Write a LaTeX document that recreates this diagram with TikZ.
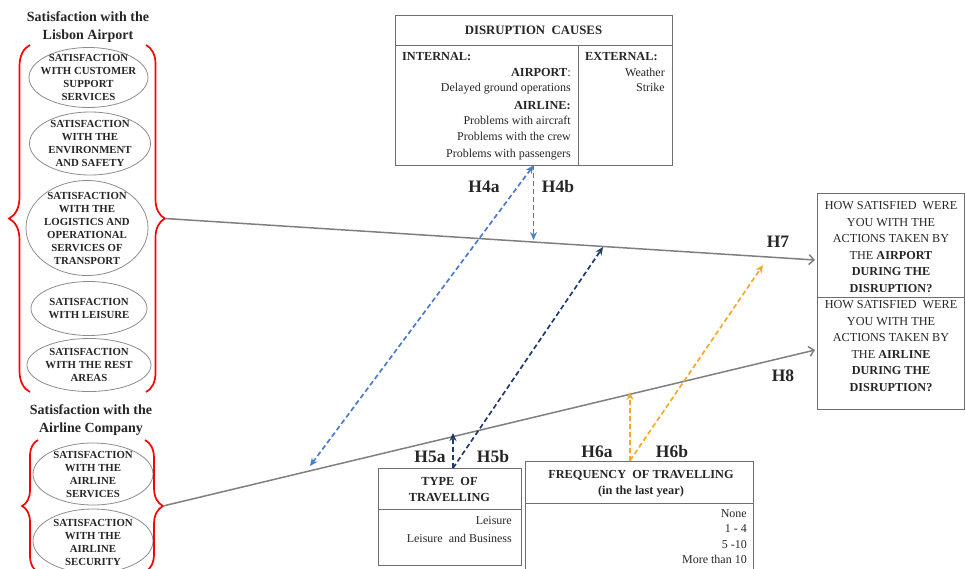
\documentclass[tikz,border=0pt]{standalone}
\usepackage{fontspec}
\setmainfont{Liberation Serif}
\usetikzlibrary{arrows.meta,decorations.pathreplacing,shapes.geometric}
\definecolor{lblue}{HTML}{4A7BD0}
\definecolor{navy}{HTML}{1F3A6E}
\definecolor{orng}{HTML}{F9A825}
\definecolor{lgray}{HTML}{7F7F7F}
\definecolor{ellgray}{HTML}{8C8C8C}
\definecolor{boxgray}{HTML}{6E6E6E}
\begin{document}
\begin{tikzpicture}[x=1pt,y=-1pt,
  ell/.style={ellipse,draw=ellgray,line width=0.8pt,inner sep=0pt},
  etext/.style={font=\fontsize{10.8}{13}\selectfont\bfseries,align=center,inner sep=0pt,text=black!85},
  ttl/.style={font=\fontsize{14}{18}\selectfont\bfseries,align=center,inner sep=0pt,text=black!85},
  hyp/.style={font=\fontsize{17.5}{17}\selectfont\bfseries,inner sep=0pt,text=black!85},
  rbrace/.style={draw=red,line width=1.7pt,decorate,decoration={brace,amplitude=#1}},
  boxn/.style={draw=boxgray,line width=0.9pt,inner sep=0pt,rectangle},
  body/.style={font=\fontsize{12}{16}\selectfont,inner sep=0pt,text=black!85},
  bhead/.style={font=\fontsize{12.3}{16}\selectfont\bfseries,inner sep=0pt,text=black!85},
  qtext/.style={font=\fontsize{12.2}{16.5}\selectfont,align=center,inner sep=0pt,text=black!85},
  conn/.style={draw=lgray,line width=1.5pt,-{Straight Barb[length=5pt,width=10pt,line width=1.5pt]}},
  dl/.style={line width=1.7pt,dash pattern=on 5pt off 3pt},
  tp/.tip={Stealth[length=8pt,width=7pt]}
]
\useasboundingbox (0,0) rectangle (965,568);
\clip (0,0) rectangle (965,568);

% ---- Lisbon Airport group
\node[ttl] (t1) at (88,27) {Satisfaction with the\\Lisbon Airport};
\node[ell,minimum width=119pt,minimum height=60pt] (e1) at (88.5,77.5) {};
\node[etext] (x1) at (e1) {SATISFACTION\\WITH CUSTOMER\\SUPPORT\\SERVICES};
\node[ell,minimum width=121pt,minimum height=63pt] (e2) at (90,143.5) {};
\node[etext] (x2) at (e2) {SATISFACTION\\WITH THE\\ENVIRONMENT\\AND SAFETY};
\node[ell,minimum width=122pt,minimum height=95pt] (e3) at (87,228) {};
\node[etext] (x3) at (e3) {SATISFACTION\\WITH THE\\LOGISTICS AND\\OPERATIONAL\\SERVICES OF\\TRANSPORT};
\node[ell,minimum width=116pt,minimum height=54pt] (e4) at (89,308.5) {};
\node[etext] (x4) at (e4) {SATISFACTION\\WITH LEISURE};
\node[ell,minimum width=124pt,minimum height=53pt] (e5) at (89,365) {};
\node[etext] (x5) at (e5) {SATISFACTION\\WITH THE REST\\AREAS};
\draw[rbrace=21pt] (30,392) -- (30,45);
\draw[rbrace=19pt] (146,45) -- (146,392);
\coordinate (b1) at (165,218.5);

% ---- Airline group
\node[ttl] (t2) at (91,420) {Satisfaction with the\\Airline Company};
\node[ell,minimum width=120pt,minimum height=62pt] (e6) at (93,474) {};
\node[etext] (x6) at (e6) {SATISFACTION\\WITH THE\\AIRLINE\\SERVICES};
\node[ell,minimum width=120pt,minimum height=64pt] (e7) at (93,541) {};
\node[etext] (x7) at (93,542) {SATISFACTION\\WITH THE\\AIRLINE\\SECURITY};
\draw[rbrace=16pt] (38,572) -- (38,440);
\draw[rbrace=18pt] (145,440) -- (145,572);
\coordinate (b2) at (163,506);

% ---- Disruption causes
\node[boxn,minimum width=277pt,minimum height=150pt] (dc) at (533.5,90) {};
\draw[boxgray,line width=0.9pt] (dc.west |- 0,45) -- (dc.east |- 0,45);
\draw[boxgray,line width=0.9pt] (578,45) -- (578,165);
\node[bhead,font=\fontsize{12.8}{16}\selectfont\bfseries] (dch) at (533.5,30) {DISRUPTION\ \ CAUSES};
\node[bhead,anchor=mid west] (int) at (402,58) {INTERNAL:};
\node[body,anchor=mid east] (ap) at (571,74) {\bfseries\fontsize{12.3}{16}\selectfont AIRPORT\mdseries:};
\node[body,anchor=mid east] (d1) at (571,89) {Delayed\ ground\ operations};
\node[bhead,anchor=mid east] (al) at (571,107) {AIRLINE:};
\node[body,anchor=mid east] (d2) at (571,122) {Problems\ with\ aircraft};
\node[body,anchor=mid east] (d3) at (571,138) {Problems\ with the crew};
\node[body,anchor=mid east] (d4) at (571,155) {Problems\ with\ passengers};
\node[bhead,anchor=mid west] (ext) at (585,58) {EXTERNAL:};
\node[body,anchor=mid east] (w1) at (665,74) {Weather};
\node[body,anchor=mid east] (w2) at (665,89) {Strike};

% ---- Outcome boxes
\node[boxn,minimum width=147pt,minimum height=104pt] (q1) at (890.5,245) {};
\node[qtext] (qt1) at (891,247) {HOW SATISFIED\ \ WERE\\YOU WITH THE\\ACTIONS TAKEN BY\\THE \textbf{AIRPORT}\\\textbf{DURING THE}\\\textbf{DISRUPTION?}};
\node[boxn,minimum width=147pt,minimum height=112pt] (q2) at (890.5,353) {};
\node[qtext] (qt2) at (891,346) {HOW SATISFIED\ \ WERE\\YOU WITH THE\\ACTIONS TAKEN BY\\THE \textbf{AIRLINE}\\\textbf{DURING THE}\\\textbf{DISRUPTION?}};

% ---- Type of travelling
\node[boxn,minimum width=143pt,minimum height=97pt] (ty) at (449.5,517) {};
\draw[boxgray,line width=0.9pt] (ty.west |- 0,509) -- (ty.east |- 0,509);
\node[bhead,align=center] (tyh) at (449.5,490) {TYPE\ \ OF\\TRAVELLING};
\node[body,anchor=mid east] (l1) at (512,522) {Leisure};
\node[body,anchor=mid east] (l2) at (512,540) {Leisure\ \ and Business};

% ---- Frequency
\node[boxn,minimum width=228pt,minimum height=139pt] (fq) at (639,530.5) {};
\draw[boxgray,line width=0.9pt] (fq.west |- 0,503) -- (fq.east |- 0,503);
\node[bhead,align=center] (fqh) at (641,484) {FREQUENCY\ \ OF TRAVELLING\\(in the last year)};
\node[body,anchor=mid east] (f1) at (747,515) {None};
\node[body,anchor=mid east] (f2) at (747,530) {1 - 4};
\node[body,anchor=mid east] (f3) at (747,546) {5 -10};
\node[body,anchor=mid east] (f4) at (747,561) {More than 10};

% ---- main connectors
\coordinate (a7) at (815,260);
\coordinate (a8) at (815,350);
\draw[conn] (b1) -- (a7);
\draw[conn] (b2) -- (a8);

% ---- dashed hypotheses
\coordinate (h4a) at (310,466);
\coordinate (h4b) at (533.5,240);
\coordinate (h5a) at (453,433);
\coordinate (h5b) at (603,247);
\coordinate (h6a) at (630,392);
\coordinate (h6b) at (763,265);
\draw[dl,lblue,tp-tp] (dc.south) -- (h4a);
\draw[dl,lblue,-tp] (dc.south) -- (h4b);
\draw[dl,navy,-tp] ([xshift=3.5pt]ty.north) -- (h5a);
\draw[dl,navy,-tp] ([xshift=3.5pt]ty.north) -- (h5b);
\draw[dl,orng,-tp] ([xshift=-9pt]fq.north) -- (h6a);
\draw[dl,orng,-tp] ([xshift=-9pt]fq.north) -- (h6b);

% ---- labels
\node[hyp] (lh4a) at (484,187) {H4a};
\node[hyp] (lh4b) at (558,187) {H4b};
\node[hyp] (lh7) at (778,242) {H7};
\node[hyp] (lh8) at (783,376) {H8};
\node[hyp] (lh5a) at (430,457) {H5a};
\node[hyp] (lh5b) at (493,457) {H5b};
\node[hyp] (lh6a) at (597,452) {H6a};
\node[hyp] (lh6b) at (672,452) {H6b};
\end{tikzpicture}
\end{document}
